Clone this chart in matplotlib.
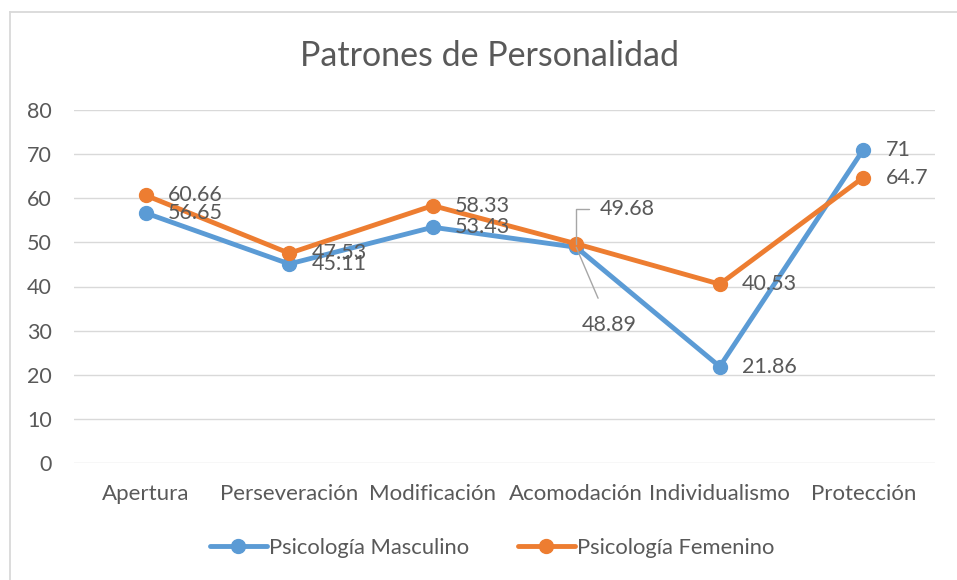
import matplotlib
matplotlib.use("Agg")
import matplotlib.pyplot as plt
from matplotlib.lines import Line2D

categories = ["Apertura", "Perseveración", "Modificación", "Acomodación", "Individualismo", "Protección"]
masculino = [56.65, 45.11, 53.43, 48.89, 21.86, 71]
femenino = [60.66, 47.53, 58.33, 49.68, 40.53, 64.7]
mas_labels = ["56.65", "45.11", "53.43", "48.89", "21.86", "71"]
fem_labels = ["60.66", "47.53", "58.33", "49.68", "40.53", "64.7"]
yticks = [0, 10, 20, 30, 40, 50, 60, 70, 80]

plt.rcParams['font.family'] = ['Lato', 'DejaVu Sans']
TXT = '#595959'
BLUE = '#5B9BD5'
ORANGE = '#ED7D31'

W, H = 957, 580
fig = plt.figure(figsize=(W/100, H/100), dpi=100)
ax = fig.add_axes([74/W, 1-463/H, (935-74)/W, (463-110)/H])

# chart border (top and left only visible)
fig.add_artist(Line2D([10/W, 1.0], [1-11.5/H, 1-11.5/H], transform=fig.transFigure,
                      color='#d9d9d9', linewidth=1.3))
fig.add_artist(Line2D([10/W, 10/W], [0, 1-11.5/H], transform=fig.transFigure,
                      color='#d9d9d9', linewidth=1.3))

x = list(range(len(categories)))
ax.plot(x, masculino, color=BLUE, linewidth=3.5, marker='o', markersize=10, zorder=3,
        label="Psicología Masculino", solid_capstyle='round')
ax.plot(x, femenino, color=ORANGE, linewidth=3.5, marker='o', markersize=10, zorder=4,
        label="Psicología Femenino", solid_capstyle='round')

ax.set_xlim(-0.5, 5.5)
ax.set_ylim(0, 80)
ax.set_yticks(yticks)
ax.set_xticks(x)
ax.set_xticklabels(categories)
ax.grid(axis='y', color='#d9d9d9', linewidth=1)
ax.set_axisbelow(True)
for s in ax.spines.values():
    s.set_visible(False)
ax.tick_params(axis='both', length=0, colors=TXT)
ax.tick_params(axis='y', pad=16, labelsize=15.5)
ax.tick_params(axis='x', pad=15, labelsize=16)

fs = 15.5
for i in range(len(categories)):
    if i == 3:
        continue
    ax.annotate(mas_labels[i], (x[i], masculino[i]), xytext=(16, 0), textcoords='offset points',
                ha='left', va='center', color=TXT, fontsize=fs, zorder=5)
    ax.annotate(fem_labels[i], (x[i], femenino[i]), xytext=(16, 0), textcoords='offset points',
                ha='left', va='center', color=TXT, fontsize=fs, zorder=5)

# Acomodación labels with leader lines
ax.annotate(fem_labels[3], (x[3], femenino[3]), xytext=(17, 25), textcoords='offset points',
            ha='left', va='center', color=TXT, fontsize=fs, zorder=5,
            arrowprops=dict(arrowstyle='-', color='#a6a6a6', lw=1,
                            connectionstyle='angle,angleA=0,angleB=90,rad=0', shrinkA=6, shrinkB=0))
ax.annotate(mas_labels[3], (x[3], masculino[3]), xytext=(24, -56), textcoords='offset points',
            ha='center', va='center', color=TXT, fontsize=fs, zorder=5,
            arrowprops=dict(arrowstyle='-', color='#a6a6a6', lw=1, shrinkA=11, shrinkB=0))

fig.text(489/W, 1-56/H, "Patrones de Personalidad", ha='center', va='center', color=TXT, fontsize=24.5)

leg = fig.legend(loc='center', bbox_to_anchor=(492/W, 1-548/H), ncol=2, frameon=False,
                 fontsize=15.8, labelcolor=TXT, handlelength=2.6, columnspacing=2.2, handletextpad=0.1)

fig.savefig("out.png", dpi=100)
